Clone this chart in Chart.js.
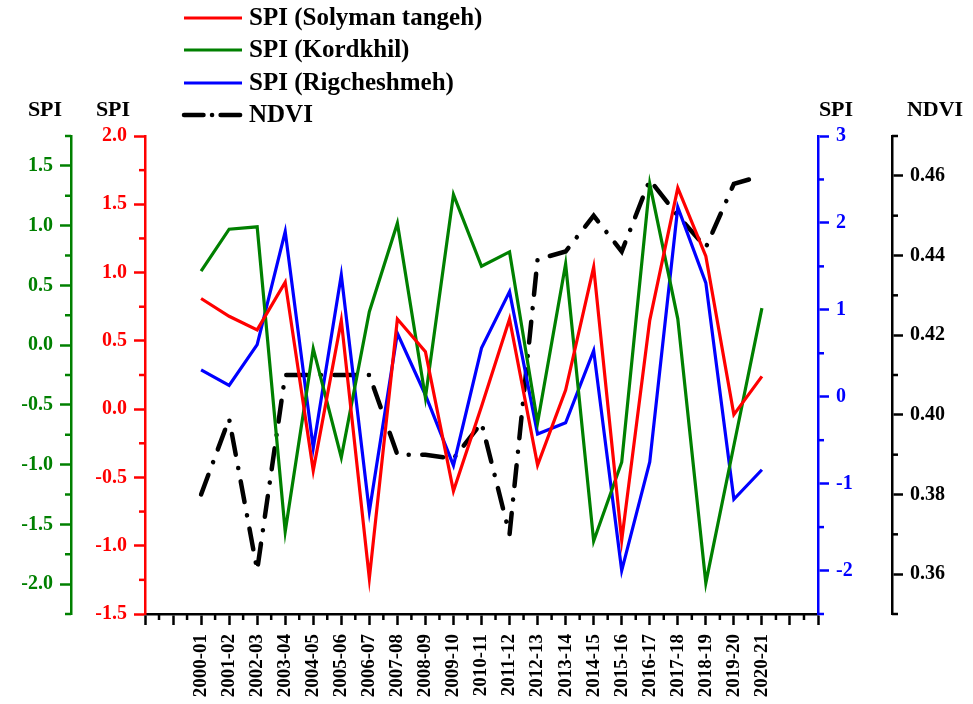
<!DOCTYPE html>
<html>
<head>
<meta charset="utf-8">
<script src="https://cdn.jsdelivr.net/npm/chart.js@4.4.0/dist/chart.umd.min.js"></script>
<style>
  html, body { margin: 0; padding: 0; background: #fff; }
  #wrap { width: 973px; height: 704px; }
</style>
</head>
<body>
<div id="wrap"><canvas id="spiChart" width="973" height="704"></canvas></div>
<script>
var seasons = ['2000-01', '2001-02', '2002-03', '2003-04', '2004-05', '2005-06', '2006-07',
    '2007-08', '2008-09', '2009-10', '2010-11', '2011-12', '2012-13', '2013-14', '2014-15',
    '2015-16', '2016-17', '2017-18', '2018-19', '2019-20', '2020-21'];

var spiSolyman = [0.81, 0.68, 0.58, 0.93, -0.45, 0.65, -1.24, 0.66, 0.42, -0.60, 0.02,
    0.66, -0.41, 0.14, 1.04, -0.96, 0.65, 1.62, 1.12, -0.04, 0.24];
var spiKordkhil = [0.62, 0.97, 0.99, -1.56, -0.03, -0.94, 0.28, 1.02, -0.44, 1.26, 0.66,
    0.78, -0.65, 0.68, -1.64, -0.98, 1.35, 0.22, -1.99, -0.84, 0.31];
var spiRigcheshmeh = [0.31, 0.13, 0.60, 1.90, -0.59, 1.40, -1.32, 0.73, 0.02, -0.79, 0.56,
    1.21, -0.43, -0.30, 0.53, -2.00, -0.75, 2.18, 1.31, -1.18, -0.84];
var ndvi = [0.380, 0.399, 0.361, 0.410, 0.410, 0.410, 0.410, 0.390, 0.390, 0.389, 0.398,
    0.370, 0.439, 0.441, 0.450, 0.441, 0.459, 0.450, 0.442, 0.458, 0.460];

// tick labels of each axis
var greenTicks = [-2.0, -1.5, -1.0, -0.5, 0.0, 0.5, 1.0, 1.5];
var redTicks = [-1.5, -1.0, -0.5, 0.0, 0.5, 1.0, 1.5, 2.0];
var blueTicks = [-2, -1, 0, 1, 2, 3];
var ndviTicks = [0.36, 0.38, 0.40, 0.42, 0.44, 0.46];

var FONT = '"Liberation Serif", "Times New Roman", serif';
var GREEN = '#008000', RED = '#ff0000', BLUE = '#0000ff', BLACK = '#000000';
var LEGEND_DASH = [19.5, 8.5, 0.1, 8.5];

Chart.defaults.font.family = FONT;
Chart.defaults.font.weight = 'bold';

function toPoints(arr) {
    return arr.map(function (v, i) { return { x: i, y: v }; });
}

function setTicks(list) {
    return function (scale) {
        scale.ticks = list.map(function (v) { return { value: v }; });
    };
}

function yAxis(color, pos, weight, min, max, list, width, digits) {
    return {
        type: 'linear',
        position: pos,
        weight: weight,
        min: min,
        max: max,
        afterBuildTicks: setTicks(list),
        afterFit: function (scale) { scale.width = width; },
        border: { display: true, color: color, width: 2.5 },
        grid: {
            drawOnChartArea: false, drawTicks: true, tickLength: 11,
            tickColor: color, tickWidth: 2.5
        },
        ticks: {
            color: color, padding: 7,
            font: { size: 20, weight: 'bold' },
            callback: function (v) { return Number(v).toFixed(digits); }
        }
    };
}

// short ticks halfway between the labelled ones
var minorSteps = { x: 0.5, yGreen: 0.25, yRed: 0.25, yBlue: 0.5, yNdvi: 0.01 };

var axisDecor = {
    id: 'axisDecor',
    afterDraw: function (chart) {
        var ctx = chart.ctx;
        ctx.save();

        Object.keys(minorSteps).forEach(function (id) {
            var scale = chart.scales[id];
            var step = minorSteps[id];
            var n = Math.round((scale.max - scale.min) / step);
            ctx.strokeStyle = scale.options.border.color;
            ctx.lineWidth = 2.5;
            for (var k = 0; k <= n; k++) {
                var v = scale.min + k * step;
                var isMajor = scale.ticks.some(function (t) {
                    return Math.abs(t.value - v) < step / 10;
                });
                if (isMajor) continue;
                var p = scale.getPixelForValue(v);
                ctx.beginPath();
                if (id === 'x') {
                    ctx.moveTo(p, scale.top);
                    ctx.lineTo(p, scale.top + 6);
                } else if (scale.position === 'left') {
                    ctx.moveTo(scale.right, p);
                    ctx.lineTo(scale.right - 6, p);
                } else {
                    ctx.moveTo(scale.left, p);
                    ctx.lineTo(scale.left + 6, p);
                }
                ctx.stroke();
            }
        });

        // axis titles above each vertical axis
        ctx.fillStyle = BLACK;
        ctx.font = 'bold 22px ' + FONT;
        ctx.textAlign = 'center';
        ctx.textBaseline = 'middle';
        ctx.fillText('SPI', chart.scales.yGreen.right - 26, 110);
        ctx.fillText('SPI', chart.scales.yRed.right - 32, 110);
        ctx.fillText('SPI', chart.scales.yBlue.left + 18, 110);
        ctx.fillText('NDVI', chart.scales.yNdvi.left + 43, 110);

        // legend
        var rowY = [18, 50, 83, 115];
        ctx.font = 'bold 25px ' + FONT;
        ctx.textAlign = 'left';
        chart.data.datasets.forEach(function (ds, i) {
            var y = rowY[i];
            ctx.strokeStyle = ds.borderColor;
            ctx.lineWidth = ds.borderWidth;
            ctx.lineCap = ds.borderCapStyle || 'butt';
            ctx.setLineDash(ds.borderDash ? LEGEND_DASH : []);
            ctx.beginPath();
            ctx.moveTo(184, y);
            ctx.lineTo(242, y);
            ctx.stroke();
            ctx.setLineDash([]);
            ctx.fillStyle = BLACK;
            ctx.fillText(ds.label, 249, y + 1);
        });

        ctx.restore();
    }
};

var data = {
    datasets: [{
        label: 'SPI (Solyman tangeh)',
        data: toPoints(spiSolyman),
        yAxisID: 'yRed',
        borderColor: RED,
        borderWidth: 3.2
    }, {
        label: 'SPI (Kordkhil)',
        data: toPoints(spiKordkhil),
        yAxisID: 'yGreen',
        borderColor: GREEN,
        borderWidth: 3.2
    }, {
        label: 'SPI (Rigcheshmeh)',
        data: toPoints(spiRigcheshmeh),
        yAxisID: 'yBlue',
        borderColor: BLUE,
        borderWidth: 3.2
    }, {
        label: 'NDVI',
        data: toPoints(ndvi),
        yAxisID: 'yNdvi',
        borderColor: BLACK,
        borderWidth: 4.5,
        borderDash: [21, 13.5, 0.1, 13.5],
        borderCapStyle: 'round'
    }]
};

var options = {
    responsive: false,
    animation: false,
    devicePixelRatio: 1,
    layout: { padding: { top: 136, left: 0, right: 0, bottom: 0 } },
    elements: {
        point: { radius: 0 },
        line: { tension: 0, fill: false, borderJoinStyle: 'miter' }
    },
    plugins: {
        legend: { display: false },
        tooltip: { enabled: false }
    },
    scales: {
        x: {
            type: 'linear',
            min: -2,
            max: 22,
            afterFit: function (scale) { scale.height = 90; },
            border: { display: true, color: BLACK, width: 2.5 },
            grid: {
                drawOnChartArea: false, drawTicks: true, tickLength: 11,
                tickColor: BLACK, tickWidth: 2.5
            },
            ticks: {
                stepSize: 1,
                autoSkip: false,
                minRotation: 90,
                maxRotation: 90,
                padding: 9,
                color: BLACK,
                font: { size: 19, weight: 'bold' },
                callback: function (v) { return seasons[Math.round(v)] || ''; }
            }
        },
        yGreen: yAxis(GREEN, 'left', 2, -2.25, 1.75, greenTicks, 71, 1),
        yRed: yAxis(RED, 'left', 1, -1.5, 2.0, redTicks, 74, 1),
        yBlue: yAxis(BLUE, 'right', 1, -2.5, 3, blueTicks, 74, 0),
        yNdvi: yAxis(BLACK, 'right', 2, 0.35, 0.47, ndviTicks, 81, 2)
    }
};

var ctx = document.getElementById('spiChart').getContext('2d');
var spiChart = new Chart(ctx, {
    type: 'line',
    data: data,
    options: options,
    plugins: [axisDecor]
});
</script>
</body>
</html>
